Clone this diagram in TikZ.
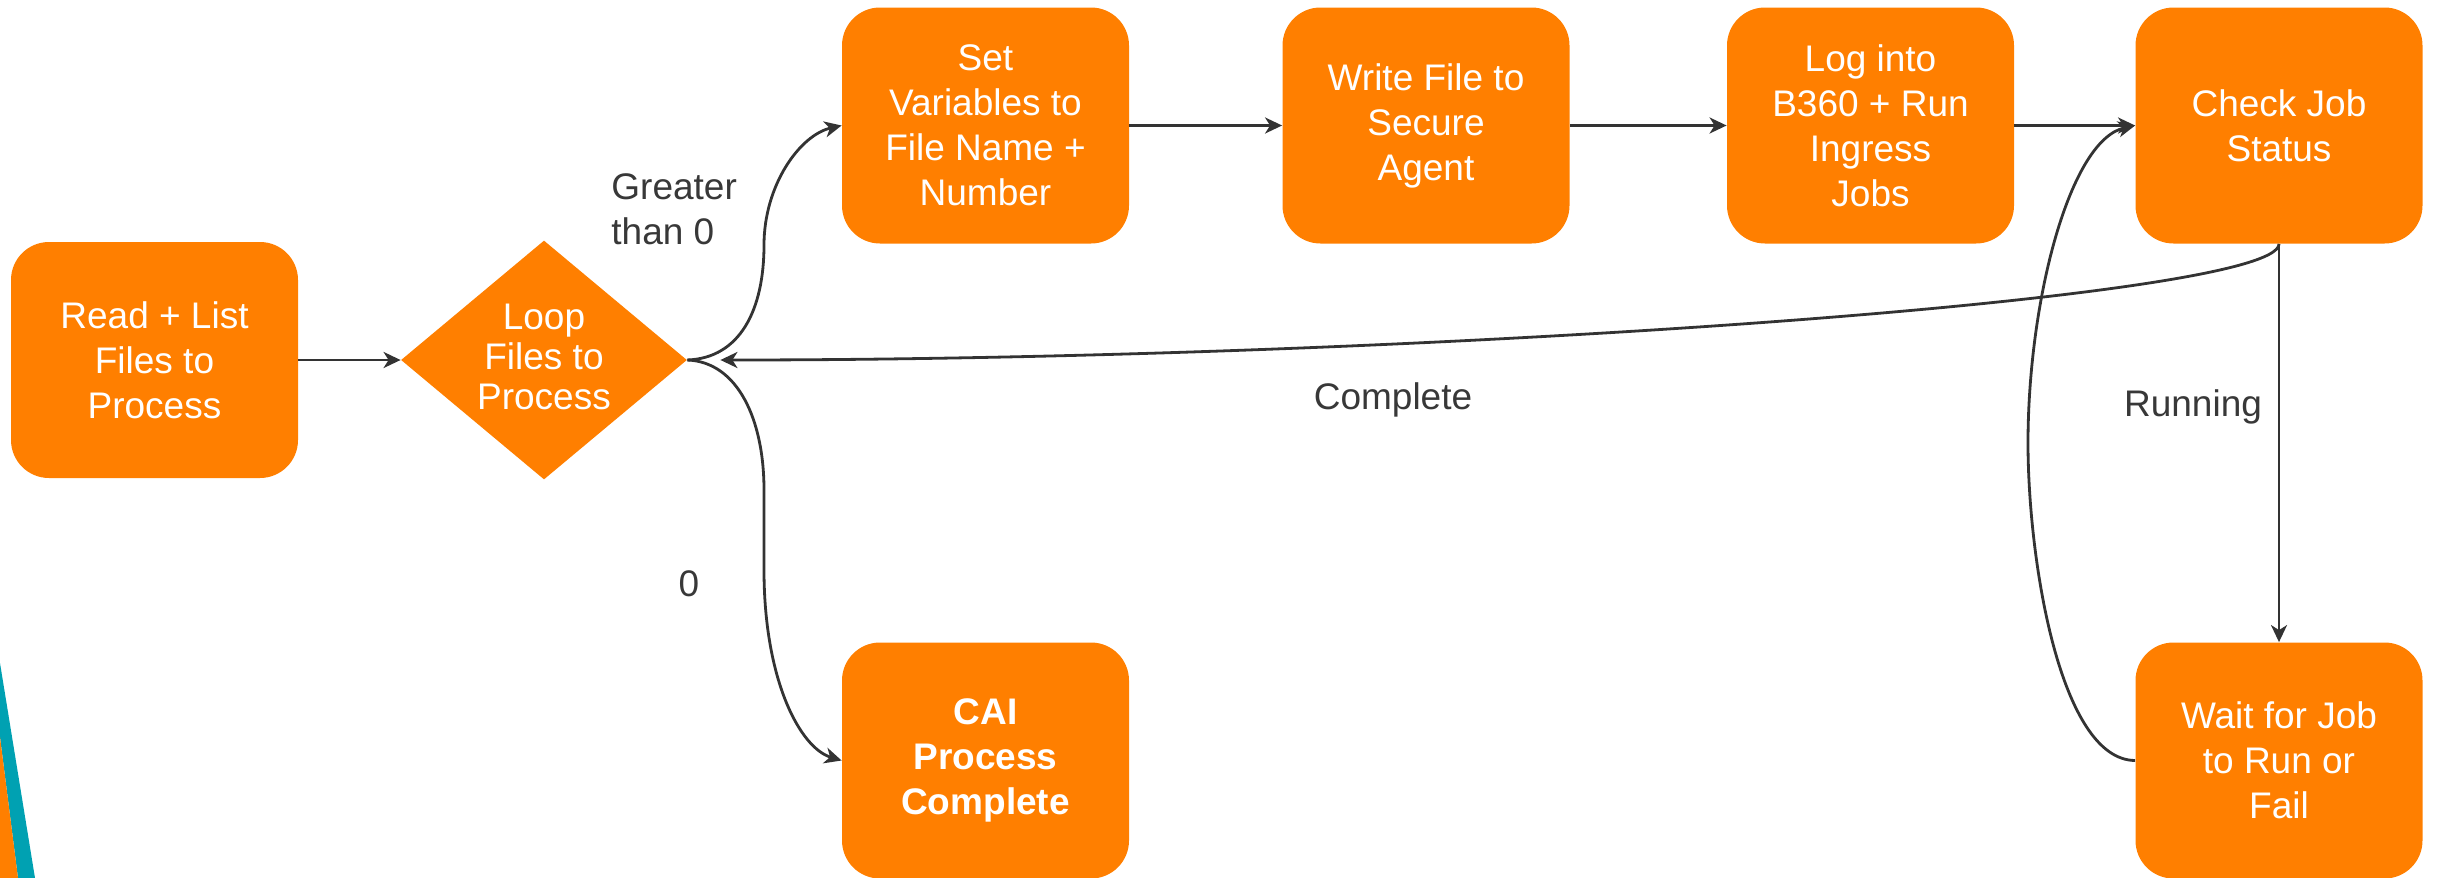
\documentclass[tikz,border=0pt]{standalone}
\usepackage{fontspec}
\setmainfont{Liberation Sans}
\usetikzlibrary{shapes.geometric,arrows.meta}

\definecolor{brandorange}{RGB}{255,127,0}
\definecolor{brandteal}{RGB}{0,161,178}
\definecolor{linegray}{RGB}{51,51,51}
\definecolor{labelgray}{RGB}{56,56,56}

\newcommand{\boxfont}{\fontsize{18.5pt}{22.5pt}\selectfont}
\newcommand{\diafont}{\fontsize{18.5pt}{20pt}\selectfont}

\tikzset{
  stepbox/.style={rectangle, rounded corners=19pt, fill=brandorange, text=white,
    minimum width=143.5pt, minimum height=118pt, inner sep=0pt,
    align=center, font=\boxfont},
  decision/.style={diamond, fill=brandorange, minimum width=143pt,
    minimum height=119.5pt, inner sep=0pt},
  diatext/.style={text=white, align=center, font=\diafont, inner sep=0pt},
  flow/.style={draw=linegray, line width=1.4pt,
    -{Stealth[length=8.5pt, width=8pt, inset=2.5pt]}},
  lbl/.style={text=labelgray, font=\boxfont, inner sep=0pt},
}

\begin{document}
\begin{tikzpicture}[x=0.5pt, y=-0.5pt]
\useasboundingbox (0,0) rectangle (2438,878);

% corner accent stripes
\fill[brandteal] (0,663) -- (35,878) -- (18,878) -- (0,737) -- cycle;
\fill[brandorange] (0,737) -- (18,878) -- (0,878) -- cycle;

% steps
\node[stepbox] (read)   at (154.5,360)   {Read + List\\Files to\\Process};
\node[decision] (loop)  at (544,360)     {};
\node[diatext] (looptext) at (544,357)   {Loop\\Files to\\Process};
\node[stepbox] (setvar) at (985.5,125.5) {Set\\Variables to\\File Name +\\Number};
\node[stepbox] (write)  at (1426,125.5)  {Write File to\\Secure\\Agent};
\node[stepbox] (login)  at (1870.5,125.5){Log into\\B360 + Run\\Ingress\\Jobs};
\node[stepbox] (check)  at (2279,125.5)  {Check Job\\Status};
\node[stepbox] (wait)   at (2279,760.5)  {Wait for Job\\to Run or\\Fail};
\node[stepbox, font=\boxfont\bfseries] (done) at (985.5,760.5) {CAI\\Process\\Complete};

% connectors
\draw[flow] (read.east) -- (loop.west);
\draw[flow] (loop.east) .. controls (740,358) and (764,310) .. (764,245)
  .. controls (764,185) and (800,135) .. (setvar.west);
\draw[flow] (loop.east) .. controls (738,362) and (764,420) .. (764,490)
  -- (764,570) .. controls (764,680) and (800,748) .. (done.west);
\draw[flow] (setvar.east) -- (write.west);
\draw[flow] (write.east) -- (login.west);
\draw[flow] (login.east) -- (check.west);
\draw[flow] (check.south) -- (wait.north);
\draw[flow] (wait.west) .. controls (2060,760) and (2028,560) .. (2028,443)
  .. controls (2028,300) and (2070,140) .. (check.west);
\draw[flow] (check.south) .. controls (2279,300) and (1400,360)
  .. ([xshift=16.5pt]loop.east);

% branch labels
\node[lbl, anchor=west, align=left] (lgreater) at (611,209) {Greater\\than 0};
\node[lbl, anchor=base] (lzero) at (689,596) {0};
\node[lbl, anchor=base] (lcomplete) at (1393,409) {Complete};
\node[lbl, anchor=base] (lrunning) at (2193,416) {Running};
\end{tikzpicture}
\end{document}
